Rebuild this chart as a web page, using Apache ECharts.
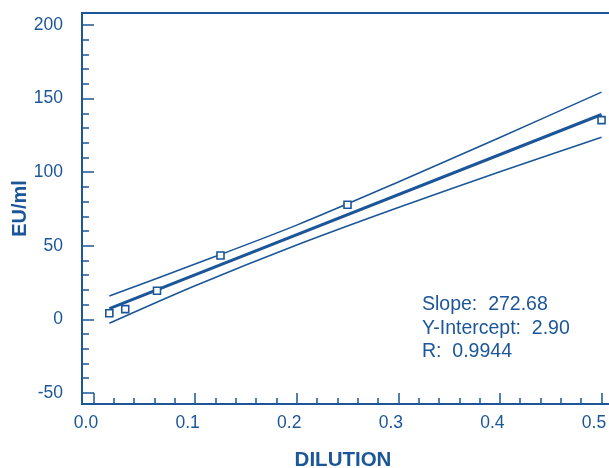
<!DOCTYPE html>
<html>
<head>
<meta charset="utf-8">
<script src="https://cdn.jsdelivr.net/npm/echarts@6/dist/echarts.min.js"></script>
<style>
html,body{margin:0;padding:0;background:#fff;}
#chart{width:609px;height:468px;}
</style>
</head>
<body>
<div id="chart"></div>
<script>
// ---- data ----
const dilution = [0.0156, 0.03125, 0.0625, 0.125, 0.25, 0.5];
const euml = [4.1, 6.9, 19.4, 43.3, 77.8, 135.4];

const fitX = [0.0156, 0.5];
const fitY = [7.2, 139.2];

const bandX = [0.0156, 0.1, 0.2, 0.3, 0.4, 0.5];
const upperY = [15.9, 37.5, 64.0, 93.3, 123.6, 154.4];
const lowerY = [-2.7, 22.8, 50.5, 76.0, 100.3, 123.8];

const xMajorTicks = [0, 0.1, 0.2, 0.3, 0.4, 0.5];
const xMinorTicks = [0.02,0.04,0.06,0.08,0.12,0.14,0.16,0.18,0.22,0.24,0.26,0.28,0.32,0.34,0.36,0.38,0.42,0.44,0.46,0.48];
const yMajorTicks = [-50, 0, 50, 100, 150, 200];
const yMinorTicks = [-40,-30,-20,-10,10,20,30,40,60,70,80,90,110,120,130,140,160,170,180,190];

const statsLines = ['Slope:  272.68', 'Y-Intercept:  2.90', 'R:  0.9944'];
const xName = 'DILUTION';
const yName = 'EU/ml';

// ---- chart ----
const C = '#1b5698';
const FONT = '"Liberation Sans", Arial, Helvetica, sans-serif';
const pairs = (xs, ys) => xs.map((x, i) => [x, ys[i]]);

const chart = echarts.init(document.getElementById('chart'), null, {renderer: 'canvas'});

const xMin = -0.0113, xMax = 0.5103;
const yMin = -57.6, yMax = 208.2;

const xBase = {
  type: 'value', min: xMin, max: xMax, gridIndex: 0,
  splitLine: {show: false}, axisLine: {show: false, onZero: false}
};
const yBase = {
  type: 'value', min: yMin, max: yMax, gridIndex: 0,
  splitLine: {show: false}, axisLine: {show: false, onZero: false}
};

chart.setOption({
  animation: false,
  backgroundColor: '#ffffff',
  grid: {left: 82, top: 13, right: -3, bottom: 64, show: true,
         containLabel: false, outerBoundsMode: 'none',
         borderColor: C, borderWidth: 2, backgroundColor: 'transparent'},
  xAxis: [
    Object.assign({}, xBase, {
      position: 'bottom',
      name: xName, nameLocation: 'middle', nameGap: 46, nameMoveOverlap: false,
      nameTextStyle: {color: C, fontFamily: FONT, fontWeight: 'bold', fontSize: 20.5, padding: [0, 8, 0, 0]},
      axisTick: {show: true, inside: true, length: 11, lineStyle: {color: C, width: 1.5},
                 customValues: xMajorTicks},
      axisLabel: {show: true, margin: 10, color: C, fontFamily: FONT, fontSize: 17.5,
                  padding: [0, 15, 0, 0],
                  customValues: xMajorTicks, formatter: v => v.toFixed(1)}
    }),
    Object.assign({}, xBase, {
      position: 'bottom',
      axisTick: {show: true, inside: true, length: 6, lineStyle: {color: C, width: 1.5},
                 customValues: xMinorTicks},
      axisLabel: {show: false}
    })
  ],
  yAxis: [
    Object.assign({}, yBase, {
      position: 'left',
      name: yName, nameLocation: 'middle', nameGap: 52, nameRotate: 90, nameMoveOverlap: false,
      nameTextStyle: {color: C, fontFamily: FONT, fontWeight: 'bold', fontSize: 20},
      axisTick: {show: true, inside: true, length: 12, lineStyle: {color: C, width: 1.5},
                 customValues: yMajorTicks},
      axisLabel: {show: true, margin: 19, color: C, fontFamily: FONT, fontSize: 17.5,
                  customValues: yMajorTicks, formatter: v => String(v)}
    }),
    Object.assign({}, yBase, {
      position: 'left',
      axisTick: {show: true, inside: true, length: 7, lineStyle: {color: C, width: 1.5},
                 customValues: yMinorTicks},
      axisLabel: {show: false}
    })
  ],
  series: [
    {type: 'line', data: pairs(bandX, upperY), smooth: 0.3, symbol: 'none',
     lineStyle: {color: C, width: 1.6}, z: 2},
    {type: 'line', data: pairs(bandX, lowerY), smooth: 0.3, symbol: 'none',
     lineStyle: {color: C, width: 1.6}, z: 2},
    {type: 'line', data: pairs(fitX, fitY), symbol: 'none',
     lineStyle: {color: C, width: 3}, z: 3},
    {type: 'scatter', data: pairs(dilution, euml), symbol: 'rect', symbolSize: 7,
     itemStyle: {color: '#ffffff', opacity: 1, borderColor: C, borderWidth: 1.6}, z: 4}
  ],
  graphic: statsLines.map((t, i) => ({
    type: 'text', left: 422, top: 295 + i * 23.5,
    style: {text: t, fill: C, font: '19.5px ' + FONT}
  }))
});
</script>
</body>
</html>
